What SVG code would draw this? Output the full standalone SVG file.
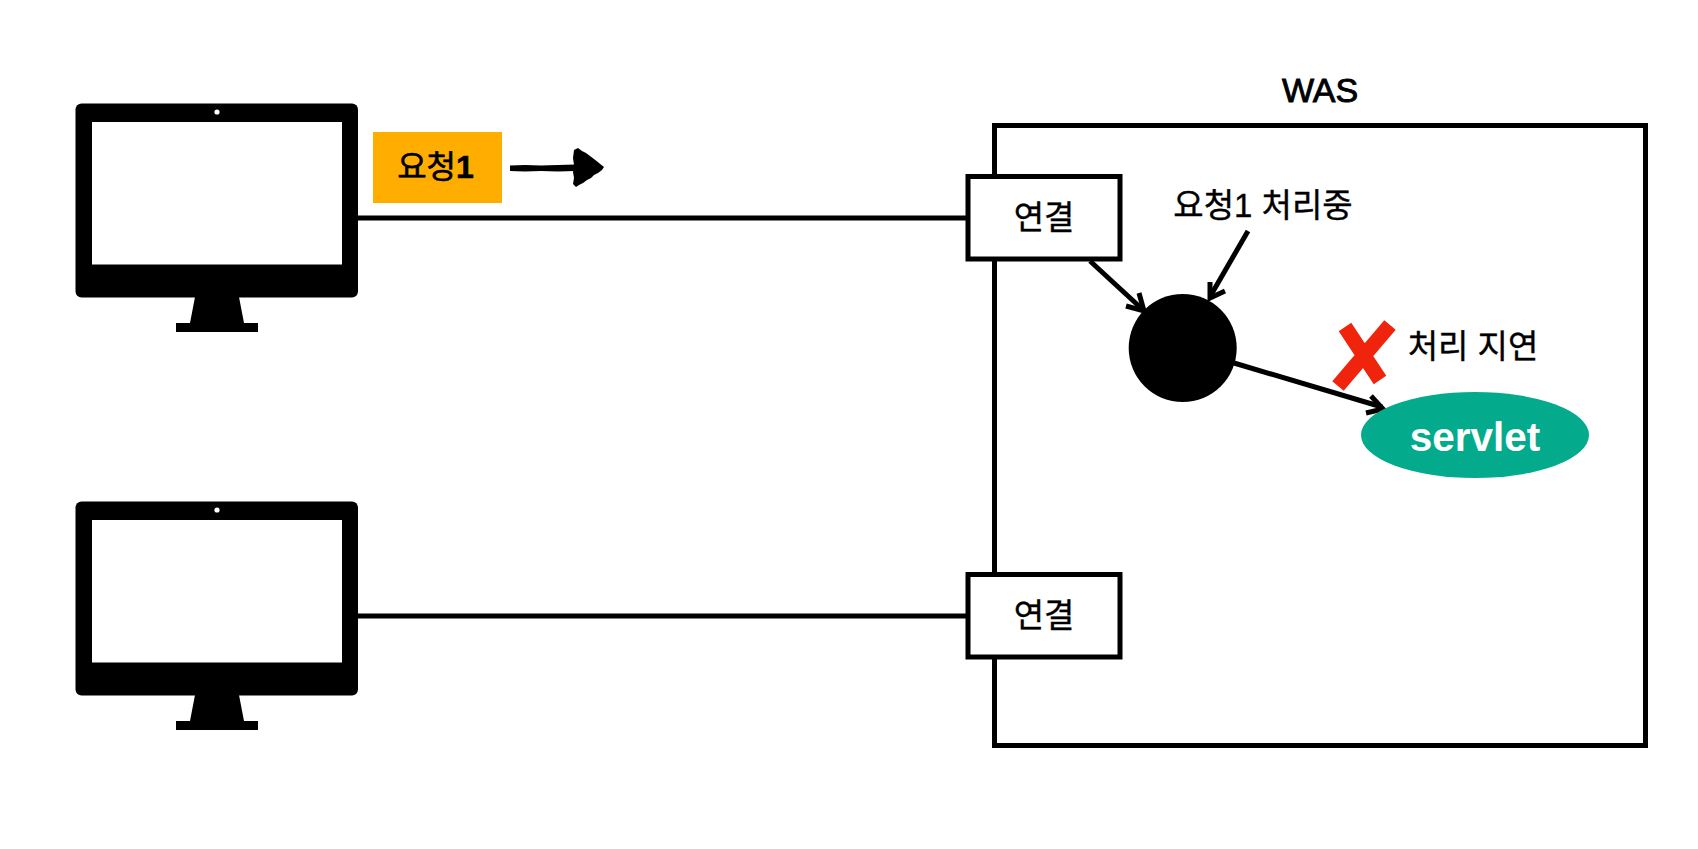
<svg xmlns="http://www.w3.org/2000/svg" width="1698" height="849" viewBox="0 0 1698 849">
<style>
text{font-family:"Liberation Sans","Noto Sans CJK KR",sans-serif;fill:#000}
.kr{font-size:33px;stroke:#000;stroke-width:.35}
.ln{stroke:#000;stroke-width:5;fill:none}
.ar{stroke:#000;stroke-width:5;fill:none}
.box{fill:#fff;stroke:#000;stroke-width:5}
</style>
<defs>
<g id="mon">
<rect x="75.500" y="103.500" width="282.500" height="194" rx="6" fill="#000"/>
<rect x="92" y="122" width="250" height="142.500" fill="#fff"/>
<circle cx="217" cy="112" r="2.600" fill="#fff"/>
<path d="M195 297H239L244 323H258V332H176V323H190Z" fill="#000"/>
</g>
</defs>
<rect width="1698" height="849" fill="#fff"/>
<g id="was">
<rect x="994.500" y="125.500" width="651" height="620" fill="none" stroke="#000" stroke-width="5"/>
<text x="1320" y="102" font-size="34" text-anchor="middle" stroke="#000" stroke-width=".9">WAS</text>
</g>
<g id="connectors">
<path class="ln" d="M358 218H968"/>
<path class="ln" d="M358 616H968"/>
<path class="ar" d="M1090 261L1141 308"/>
<path class="ar" d="M1126 306L1144 311L1139 293"/>
<path class="ar" d="M1248 231L1211 295"/>
<path class="ar" d="M1210 282L1210 298L1225 291"/>
<path class="ln" d="M1234 363L1382 407"/>
<path class="ar" d="M1371 396L1383 409L1366 413"/>
</g>
<g id="client1"><use href="#mon"/></g>
<g id="client2"><use href="#mon" y="398"/></g>
<g id="request">
<rect x="373" y="132" width="129" height="71" fill="#ffae00"/>
<text class="kr" x="435.500" y="178" text-anchor="middle" style="font-size:32px;stroke-width:.6">요청<tspan font-weight="700">1</tspan></text>
<path d="M510 165.500L525 165L541 165.500L558 165L575 164.500L575 171L558 171.500L541 171L525 171.500L510 171Z" fill="#000"/>
<path d="M574 150L578 148L582 151L586 153L590 156L594 159L599 163L604 167L602 170L598 173L594 175L591 178L587 180L583 183L579 185L576 187L573 184L574 178L573 172L574 165L573 158Z" fill="#000"/>
</g>
<g id="conn1">
<rect class="box" x="968" y="176.500" width="152" height="82.500"/>
<text class="kr" x="1044" y="229" text-anchor="middle">연결</text>
</g>
<g id="conn2">
<rect class="box" x="968" y="574.500" width="152" height="82.500"/>
<text class="kr" x="1044" y="627" text-anchor="middle">연결</text>
</g>
<g id="thread">
<circle cx="1182.700" cy="348" r="54" fill="#000"/>
<text class="kr" x="1263" y="217" text-anchor="middle">요청1 처리중</text>
</g>
<g id="delay">
<path d="M1345 327L1380 380M1390 325L1338 386" stroke="#f0240c" stroke-width="15" fill="none"/>
<text class="kr" x="1473" y="358" text-anchor="middle">처리 지연</text>
</g>
<g id="servlet">
<ellipse cx="1475" cy="435" rx="114" ry="43" fill="#03ab8c"/>
<text x="1475" y="451" font-size="40.500" font-weight="700" text-anchor="middle" style="fill:#fff">servlet</text>
</g>
</svg>
